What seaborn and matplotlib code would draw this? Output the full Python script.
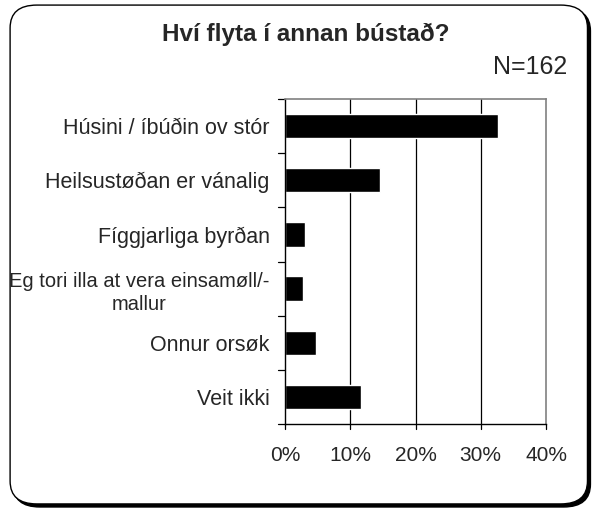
import matplotlib
matplotlib.use("Agg")
import matplotlib.pyplot as plt
from matplotlib.patches import FancyBboxPatch
import pandas as pd
import seaborn as sns

# answers and share of respondents (%)
categories = [
    "Húsini / íbúðin ov stór",
    "Heilsustøðan er vánalig",
    "Fíggjarliga byrðan",
    "Eg tori illa at vera einsamøll/-\nmallur",
    "Onnur orsøk",
    "Veit ikki",
]
shares = [32.7, 14.5, 3.1, 2.8, 4.8, 11.7]
xticks = [0, 10, 20, 30, 40]
xtick_labels = ["0%", "10%", "20%", "30%", "40%"]

df = pd.DataFrame({"cat": categories, "share": shares})

sns.set_style("white")
plt.rcParams["font.family"] = ["Liberation Sans", "DejaVu Sans"]

fig = plt.figure(figsize=(5.94, 5.08), dpi=100)

# rounded frame with shadow
shadow = FancyBboxPatch((0.022, 0.002), 0.972, 0.982, boxstyle="round,pad=0,rounding_size=0.045",
                        transform=fig.transFigure, facecolor="black", edgecolor="black", zorder=0)
frame = FancyBboxPatch((0.017, 0.008), 0.972, 0.982, boxstyle="round,pad=0,rounding_size=0.045",
                       transform=fig.transFigure, facecolor="white", edgecolor="black", lw=1.0, zorder=1)
fig.patches.extend([shadow, frame])

ax = fig.add_axes([285 / 594, 1 - 424 / 508, 261 / 594, 325 / 508])
ax.set_zorder(2)
sns.barplot(data=df, x="share", y="cat", color="black", width=0.45, ax=ax, saturation=1)

ax.set_xlim(0, 40)
ax.set_ylim(5.5, -0.5)
ax.set_xticks(xticks)
ax.set_xticklabels(xtick_labels, fontsize=15)
ax.set_xlabel("")
ax.set_ylabel("")
ax.set_yticks(range(len(categories)))
ax.set_yticklabels(categories, fontsize=15.5, multialignment="center", linespacing=1.3)
# the long wrapped label is set a touch narrower
ax.get_yticklabels()[3].set_fontsize(14.5)
ax.tick_params(axis="y", length=0, pad=11)
ax.tick_params(axis="x", length=0, pad=16)

for x in xticks[1:-1]:
    ax.axvline(x, color="black", lw=0.9, zorder=0)

# ticks between categories on the value axis
for b in [i - 0.5 for i in range(len(categories) + 1)]:
    ax.plot([-1.0, 0], [b, b], color="black", lw=0.9, clip_on=False)
for x in xticks:
    ax.plot([x, x], [5.5, 5.6], color="black", lw=0.9, clip_on=False)

for s in ["top", "right"]:
    ax.spines[s].set_color("#808080")
    ax.spines[s].set_linewidth(1.2)
for s in ["left", "bottom"]:
    ax.spines[s].set_color("black")
    ax.spines[s].set_linewidth(1.0)
ax.set_facecolor("none")

fig.text(306 / 594, 1 - 41 / 508, "Hví flyta í annan bústað?", ha="center", va="baseline",
         fontsize=17.5, fontweight="bold")
fig.text(567 / 594, 1 - 74 / 508, "N=162", ha="right", va="baseline", fontsize=18)

fig.savefig("out.png", dpi=100)
